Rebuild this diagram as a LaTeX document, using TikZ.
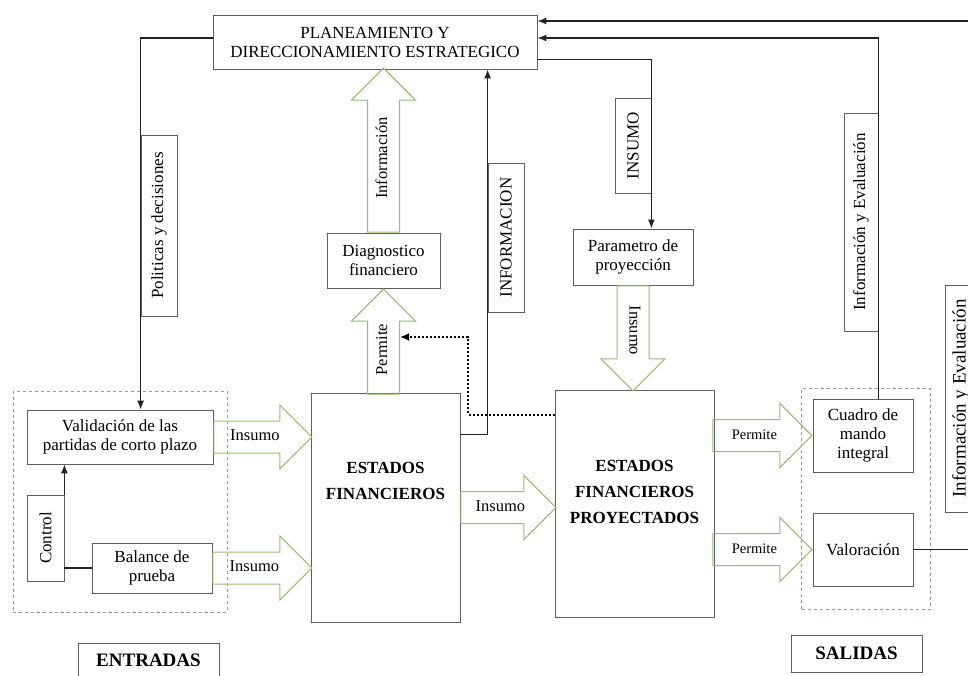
\documentclass[tikz,border=0pt]{standalone}
\usepackage{fontspec}
\setmainfont{Liberation Serif}
\usepackage{xcolor}
\usetikzlibrary{shapes, arrows.meta, positioning, calc, fit}
\definecolor{boxgray}{RGB}{95, 95, 95}
\definecolor{linegray}{RGB}{35, 35, 35}
\definecolor{arrowgreen}{RGB}{150, 190, 110}
\definecolor{groupgreen}{RGB}{140, 170, 120}

\tikzset{
    caja/.style={draw=boxgray, line width=0.8pt, fill=white, align=center, inner sep=2pt, font=\fontsize{17}{19}\selectfont},
    etiqueta/.style={caja, rotate=90},
    negrita/.style={align=center, font=\fontsize{17}{26}\selectfont\bfseries},
    flecha/.style={draw=linegray, line width=1.3pt, -{Latex[length=9pt, width=7pt]}},
    linea/.style={draw=linegray, line width=1.3pt},
    punteado/.style={draw=black, line width=2pt, dash pattern=on 2pt off 2pt, -{Latex[length=9pt, width=8pt]}},
    bloque/.style={single arrow, draw=arrowgreen, line width=1pt, single arrow head extend=16pt,
        text height=10pt, text depth=3pt, inner ysep=9pt, inner xsep=2pt, font=\fontsize{16.5}{18}\selectfont},
    grupo/.style={draw=groupgreen, dashed, line width=0.8pt}
}

\begin{document}
\begin{tikzpicture}[x=1pt, y=-1pt]
    \useasboundingbox (0,0) rectangle (968,676);
    \clip (0,0) rectangle (968,676);

    % Planeamiento
    \node[caja, minimum width=324pt, minimum height=54pt] (plan) at (375,42) {PLANEAMIENTO Y\\DIRECCIONAMIENTO ESTRATEGICO};

    % Entradas
    \node[caja, minimum width=186pt, minimum height=54pt] (valid) at (120,437) {Validación de las\\partidas de corto plazo};
    \node[caja, minimum width=120pt, minimum height=50pt] (balance) at (152,568) {Balance de\\prueba};
    \node[etiqueta, minimum width=86pt, minimum height=37pt] (control) at (45.5,538) {Control};
    \node[grupo, fit=(valid)(balance)(control), inner xsep=13.5pt, inner ysep=18.5pt] (entradas) {};
    \node[caja, minimum width=141pt, minimum height=34pt, font=\fontsize{19}{21}\selectfont\bfseries] (lblent) at (148.5,660) {ENTRADAS};

    % Estados financieros
    \node[caja, minimum width=149pt, minimum height=229pt,
        label={[negrita, yshift=27pt]center:ESTADOS\\FINANCIEROS}] (ef) at (385.5,507.5) {};
    \node[caja, minimum width=159pt, minimum height=227pt,
        label={[negrita, yshift=12pt]center:ESTADOS\\FINANCIEROS\\PROYECTADOS}] (efp) at (634.5,503.5) {};
    \node[caja, minimum width=113pt, minimum height=55pt] (diag) at (383.5,260.5) {Diagnostico\\financiero};
    \node[caja, minimum width=120pt, minimum height=56pt] (param) at (633,257) {Parametro de\\proyección};

    % Salidas
    \node[caja, minimum width=100pt, minimum height=73pt] (cuadro) at (863,435.5) {Cuadro de\\mando\\integral};
    \node[caja, minimum width=100pt, minimum height=73pt] (valora) at (863,549.5) {Valoración};
    \node[grupo, fit=(cuadro)(valora), inner xsep=14pt, inner ysep=16.5pt, xshift=3pt, yshift=-6.5pt] (salidas) {};
    \node[caja, minimum width=131pt, minimum height=37pt, font=\fontsize{19}{21}\selectfont\bfseries] (lblsal) at (856.5,653.5) {SALIDAS};

    % Etiquetas de los conectores
    \node[etiqueta, minimum width=181pt, minimum height=36pt] (pol) at (159,225.5) {Politicas y decisiones};
    \node[etiqueta, minimum width=149pt, minimum height=36pt] (inf) at (506,237.5) {INFORMACION};
    \node[etiqueta, minimum width=95pt, minimum height=36pt] (insumo) at (633,145.5) {INSUMO};
    \node[etiqueta, minimum width=218pt, minimum height=34pt] (ie1) at (861,222) {Información y Evaluación};
    \node[etiqueta, minimum width=227pt, minimum height=32pt, font=\fontsize{19}{21}\selectfont] (ie2) at (961,398.5) {Información y Evaluación};

    % Flechas de bloque
    \node[bloque, minimum height=98pt, anchor=tail] (ins1) at (valid.east) {Insumo};
    \node[bloque, minimum height=99pt, anchor=tail] (ins2) at (balance.east) {Insumo};
    \node[bloque, minimum height=95pt, anchor=tail] (ins3) at (ef.east) {Insumo};
    \node[bloque, minimum height=99pt, anchor=tip, font=\fontsize{14.5}{16}\selectfont] (perm1) at (cuadro.west) {Permite};
    \node[bloque, minimum height=99pt, anchor=tip, font=\fontsize{14.5}{16}\selectfont] (perm2) at (valora.west) {Permite};
    \node[bloque, rotate=90, minimum height=105pt, anchor=tip] (perm3) at (diag.south) {Permite};
    \node[bloque, rotate=90, minimum height=164pt, anchor=tail] (info) at (diag.north) {Información};
    \node[bloque, rotate=-90, minimum height=105pt, anchor=tail] (ins4) at (param.south) {Insumo};

    % Conectores
    \draw[flecha] ([yshift=4pt]plan.west) -| (pol.north) -- (pol.north |- valid.north);
    \draw[flecha] (control.south east) -- (control.south east |- valid.south);
    \draw[linea] (balance.west) -- (balance.west -| control.south);
    \draw[flecha] ([yshift=-42pt]ef.north east) -| (inf.north) -- (inf.north |- plan.south);
    \draw[flecha] ([yshift=10pt]plan.south east) -| (insumo.south) -- (insumo.south |- param.north);
    \draw[flecha] (cuadro.north -| ie1.south) -- (ie1.south) |- ([yshift=4pt]plan.east);
    \draw[flecha] (valora.east) -| (ie2.south) |- ([yshift=21pt]plan.east);

    % Retroalimentacion punteada
    \coordinate (giro) at (468,337);
    \draw[punteado] ([yshift=-25pt]efp.north west) -| (giro) -- (giro -| perm3.south);
\end{tikzpicture}
\end{document}
